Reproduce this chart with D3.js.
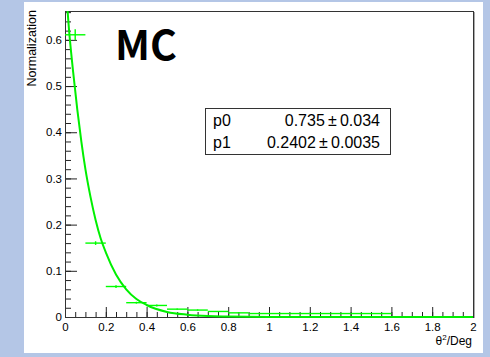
<!DOCTYPE html>
<meta charset="utf-8">
<style>
body { margin: 0; background: #b4c6e6; font-family: "Liberation Sans", Helvetica, Arial, sans-serif; }
svg { display: block; }
.axis text { font-size: 11.5px; fill: #000; }
.axis line { stroke: #222; }
.axis path { display: none; }
.fit { fill: none; stroke: #00f000; stroke-width: 2px; }
.bar { stroke: #00ff00; stroke-width: 1.4px; }
</style>
<body>
<script src="https://d3js.org/d3.v7.min.js"></script>
<script>
// histogram bins (theta^2)
var binWidth = 0.1;
var binCenter = [0.05, 0.15, 0.25, 0.35, 0.45, 0.55, 0.65, 0.75, 0.85, 0.95,
                 1.05, 1.15, 1.25, 1.35, 1.45, 1.55, 1.65, 1.75, 1.85, 1.95];
var binValue  = [0.611, 0.160, 0.066, 0.031, 0.025, 0.017, 0.015, 0.012, 0.009, 0.0075,
                 0.0075, 0.0075, 0.0075, 0.0075, 0.0075, 0.0075, 0, 0, 0, 0];
var binError  = [0.012, 0.004, 0.003, 0.002, 0.002, 0.0015, 0.0015, 0.001, 0.001, 0.001,
                 0.001, 0.001, 0.001, 0.001, 0.001, 0.001, 0, 0, 0, 0];

// fitted curve
var fitX = [0, 0.02, 0.04, 0.06, 0.08, 0.1, 0.125, 0.15, 0.175, 0.2, 0.25, 0.3, 0.35, 0.4,
            0.5, 0.6, 0.7, 0.8, 1.0, 1.2, 1.5, 2.0];
var fitY = [0.735, 0.62, 0.53, 0.45, 0.38, 0.32, 0.26, 0.21, 0.17, 0.14, 0.092, 0.060, 0.039, 0.026,
            0.011, 0.005, 0.002, 0.001, 0.0002, 0, 0, 0];

var xTicks = [0, 0.2, 0.4, 0.6, 0.8, 1, 1.2, 1.4, 1.6, 1.8, 2];
var yTicks = [0, 0.1, 0.2, 0.3, 0.4, 0.5, 0.6];
var statNames = ["p0", "p1"];
var statValues = ["0.735\u2009\u00b1\u20090.034", "0.2402\u2009\u00b1\u20090.0035"];

var width = 490, height = 357;

var x = d3.scaleLinear().domain([0, 2]).range([65, 473]);
var y = d3.scaleLinear().domain([0, 0.6625]).range([317, 11]);

var svg = d3.select("body").append("svg")
    .attr("width", width)
    .attr("height", height);

// white canvas
svg.append("rect")
    .attr("x", 24).attr("y", 2)
    .attr("width", 459).attr("height", 351)
    .attr("fill", "#fff");

svg.append("clipPath").attr("id", "frame")
  .append("rect")
    .attr("x", 65).attr("y", 11)
    .attr("width", 409).attr("height", 307);

// minor ticks
svg.append("g").attr("class", "axis")
    .attr("transform", "translate(65,0)")
    .call(d3.axisLeft(y).tickValues(d3.range(0, 0.661, 0.02)).tickSizeInner(-6).tickSizeOuter(0).tickFormat(""));
svg.append("g").attr("class", "axis")
    .attr("transform", "translate(0,317)")
    .call(d3.axisBottom(x).tickValues(d3.range(0, 2.001, 0.05)).tickSizeInner(-5).tickSizeOuter(0).tickFormat(""));

// major ticks + labels
svg.append("g").attr("class", "axis")
    .attr("transform", "translate(65,0)")
    .call(d3.axisLeft(y).tickValues(yTicks).tickSizeInner(-12).tickSizeOuter(0).tickPadding(3)
      .tickFormat(d3.format("~g")));
svg.append("g").attr("class", "axis")
    .attr("transform", "translate(0,317)")
    .call(d3.axisBottom(x).tickValues(xTicks).tickSizeInner(-10).tickSizeOuter(0).tickPadding(5.5)
      .tickFormat(d3.format("~g")));

// frame with a little shadow on the right
svg.append("line")
    .attr("x1", 474.5).attr("x2", 474.5).attr("y1", 12).attr("y2", 318)
    .attr("stroke", "#aaa");
svg.append("rect")
    .attr("x", 65.5).attr("y", 11.5)
    .attr("width", 408).attr("height", 306)
    .attr("fill", "none")
    .attr("stroke", "#333");

var plot = svg.append("g").attr("clip-path", "url(#frame)");

var bins = binCenter.map(function(c, i) {
  return { c: c, v: binValue[i], e: binError[i] };
});

plot.selectAll(".hbar")
    .data(bins)
  .enter().append("line")
    .attr("class", "bar")
    .attr("x1", function(d) { return x(d.c - binWidth / 2); })
    .attr("x2", function(d) { return x(d.c + binWidth / 2); })
    .attr("y1", function(d) { return y(d.v); })
    .attr("y2", function(d) { return y(d.v); });

plot.selectAll(".vbar")
    .data(bins.filter(function(d) { return d.e > 0; }))
  .enter().append("line")
    .attr("class", "bar")
    .attr("x1", function(d) { return x(d.c); })
    .attr("x2", function(d) { return x(d.c); })
    .attr("y1", function(d) { return y(d.v - d.e); })
    .attr("y2", function(d) { return y(d.v + d.e); });

var line = d3.line()
    .x(function(d) { return x(d[0]); })
    .y(function(d) { return y(d[1]); })
    .curve(d3.curveMonotoneX);

plot.append("path")
    .datum(fitX.map(function(v, i) { return [v, fitY[i]]; }))
    .attr("class", "fit")
    .attr("d", line);

// axis titles
svg.append("text")
    .attr("transform", "translate(35.5,10) rotate(-90)")
    .attr("text-anchor", "end")
    .style("font-size", "12.5px")
    .text("Normalization");

var xt = svg.append("text")
    .attr("x", 472).attr("y", 345)
    .attr("text-anchor", "end")
    .style("font-size", "12px");
xt.append("tspan").text("\u03b8");
xt.append("tspan").attr("dy", -5).style("font-size", "8px").text("2");
xt.append("tspan").attr("dy", 5).text("/Deg");

// MC label
svg.append("text")
    .attr("x", 115).attr("y", 60)
    .style("font-family", "'Noto Sans CJK SC', 'Noto Sans', sans-serif")
    .style("font-weight", "bold")
    .style("font-size", "41px")
    .text("MC");

// fit stats box
var box = svg.append("g");
box.append("rect")
    .attr("x", 205.5).attr("y", 108.5)
    .attr("width", 185).attr("height", 46)
    .attr("fill", "#fff")
    .attr("stroke", "#333");
box.selectAll(".sname")
    .data(statNames)
  .enter().append("text")
    .attr("x", 213)
    .attr("y", function(d, i) { return 126 + i * 22; })
    .style("font-size", "16px")
    .text(function(d) { return d; });
box.selectAll(".sval")
    .data(statValues)
  .enter().append("text")
    .attr("x", 380)
    .attr("y", function(d, i) { return 126 + i * 22; })
    .attr("text-anchor", "end")
    .style("font-size", "16px")
    .text(function(d) { return d; });
</script>
